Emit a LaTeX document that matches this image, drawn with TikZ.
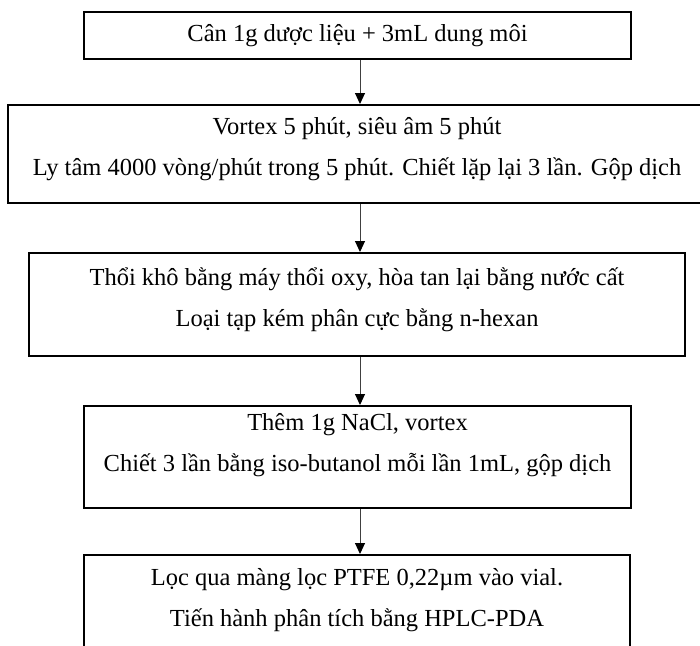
\documentclass[tikz,border=0pt]{standalone}
\usepackage{fontspec}
\setmainfont{Liberation Serif}
\usetikzlibrary{arrows.meta}
\begin{document}
\begin{tikzpicture}[x=1pt,y=-1pt,
  box/.style={draw=black, line width=2pt, inner sep=0pt},
  txt/.style={font=\fontsize{24.5}{41}\selectfont, align=center, inner sep=0pt},
  conn/.style={draw=black!75, line width=1pt, -{Triangle[width=10pt,length=11pt,color=black]}}]
\path[use as bounding box] (0,0) rectangle (700,645);
\clip (0,0) rectangle (700,645);
\coordinate (ax) at (360,0);
% boxes
\node[box, minimum width=547pt, minimum height=47pt]  (n1) at (357.5,35.5) {};
\node[box, minimum width=698pt, minimum height=98pt]  (n2) at (357,154) {};
\node[box, minimum width=656pt, minimum height=103pt] (n3) at (357,304.5) {};
\node[box, minimum width=547pt, minimum height=102pt] (n4) at (357.5,457) {};
\node[box, minimum width=546pt, minimum height=104pt] (n5) at (357,607) {};
% texts
\node[txt] (t1) at (357.5,35.5) {Cân 1g dược liệu + 3mL dung môi};
\node[txt] (t2) at (357,149.5) {Vortex 5 phút, siêu âm 5 phút\\Ly tâm 4000 vòng/phút trong 5 phút. Chiết lặp lại 3 lần. Gộp dịch};
\node[txt] (t3) at (357,299.5) {Thổi khô bằng máy thổi oxy, hòa tan lại bằng nước cất\\Loại tạp kém phân cực bằng n-hexan};
\node[txt] (t4) at (357.5,445) {Thêm 1g NaCl, vortex\\Chiết 3 lần bằng iso-butanol mỗi lần 1mL, gộp dịch};
\node[txt] (t5) at (357,600) {Lọc qua màng lọc PTFE 0,22µm vào vial.\\Tiến hành phân tích bằng HPLC-PDA};
% connectors
\draw[conn] (n1.south -| ax) -- (n2.north -| ax);
\draw[conn] (n2.south -| ax) -- (n3.north -| ax);
\draw[conn] (n3.south -| ax) -- (n4.north -| ax);
\draw[conn] (n4.south -| ax) -- (n5.north -| ax);
\end{tikzpicture}
\end{document}
